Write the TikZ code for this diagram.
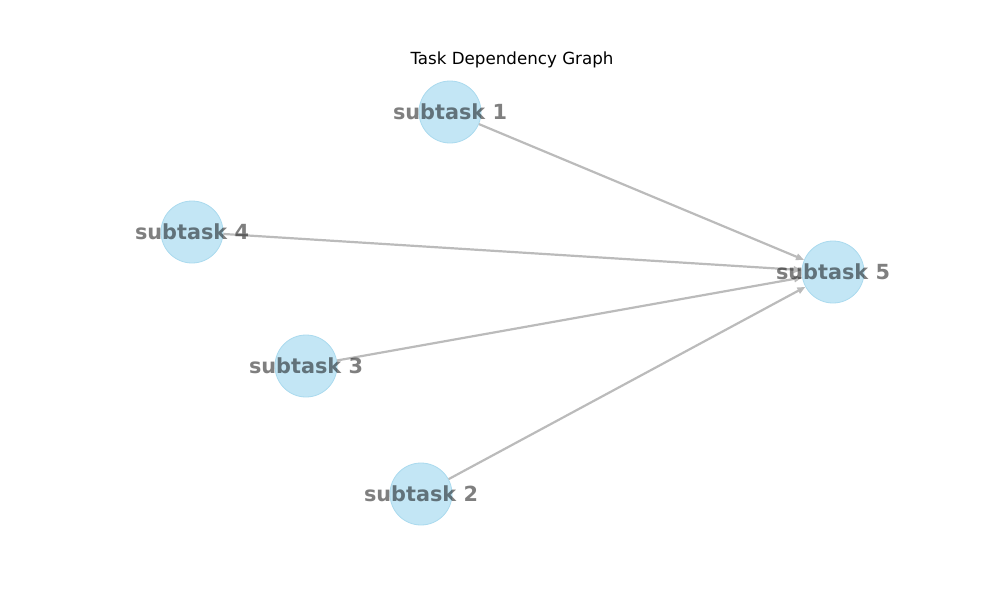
\documentclass[tikz,border=0pt]{standalone}
\usepackage{fontspec}
\setmainfont{DejaVu Sans}
\usetikzlibrary{positioning,arrows.meta}
\definecolor{taskfill}{RGB}{195,230,245}
\definecolor{taskline}{RGB}{170,218,238}
\definecolor{depline}{RGB}{187,187,187}
\definecolor{dephead}{RGB}{140,140,140}

\begin{document}
\begin{tikzpicture}[x=1pt, y=-1pt, >={Triangle[length=8pt,width=6.5pt,fill=dephead]},
    task/.style={circle, fill=taskfill, draw=taskline, line width=0.8pt, minimum size=62pt, inner sep=0pt},
    tasklabel/.style={font=\fontsize{20.8}{24}\selectfont\bfseries, text=black, text opacity=0.5, inner sep=0pt},
    dep/.style={->, draw=depline, line width=2.2pt}]
        \useasboundingbox (0,0) rectangle (1000,600);

        % title
        \node (title) at (512,60) {\fontsize{16.7}{20}\selectfont Task Dependency Graph};

        % the five subtasks
        \node[task] (t1) at (450,112) {};
        \node[task] (t4) at (192,232) {};
        \node[task] (t5) at (833,272) {};
        \node[task] (t3) at (306,366) {};
        \node[task] (t2) at (421,494) {};

        % all of them feed subtask 5
        \draw[dep] (t1) -- (t5);
        \draw[dep] (t4) -- (t5);
        \draw[dep] (t3) -- (t5);
        \draw[dep] (t2) -- (t5);

        % labels on top
        \node[tasklabel] (l1) at (t1) {subtask 1};
        \node[tasklabel] (l4) at (t4) {subtask 4};
        \node[tasklabel] (l5) at (t5) {subtask 5};
        \node[tasklabel] (l3) at (t3) {subtask 3};
        \node[tasklabel] (l2) at (t2) {subtask 2};
\end{tikzpicture}
\end{document}
